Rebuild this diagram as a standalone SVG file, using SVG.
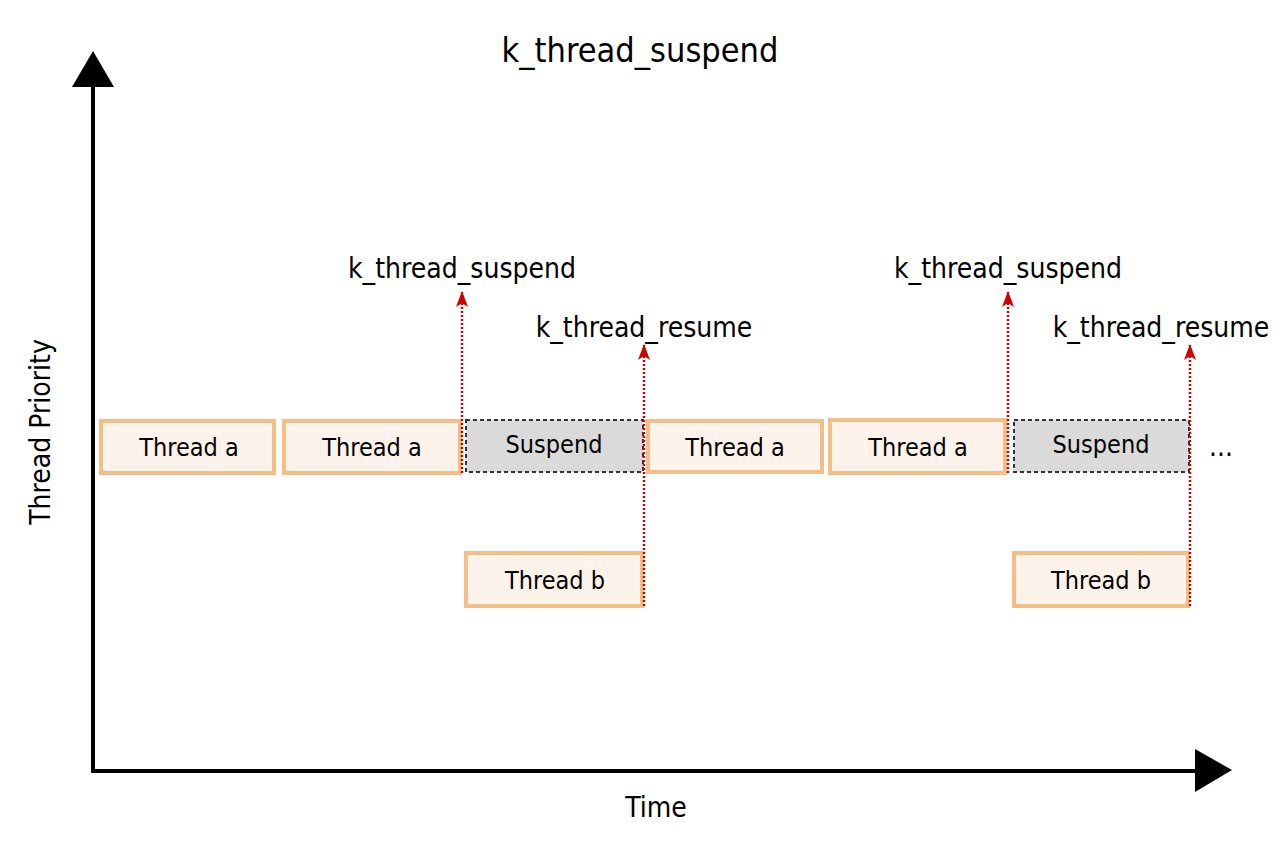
<svg xmlns="http://www.w3.org/2000/svg" width="1282" height="854" viewBox="0 0 1282 854">
<style>
text{font-family:"DejaVu Sans Condensed","DejaVu Sans",sans-serif;fill:#000;text-anchor:middle}
.lbl{font-size:28px}
.box{font-size:25px}
.th{fill:#fdf3ea;stroke:#f4be86;stroke-width:4}
.sp{fill:#dadada;stroke:#333;stroke-width:2;stroke-dasharray:4 3}
.ev{fill:none;stroke:#d00000;stroke-width:2.5;stroke-dasharray:2 2}
.ax{stroke:#000;stroke-width:4;fill:none}
</style>
<defs>
<marker id="ar" viewBox="0 0 16 12" refX="15" refY="6" markerWidth="16" markerHeight="12" markerUnits="userSpaceOnUse" orient="auto">
<path d="M0,0 L16,6 L0,12 L4,6 Z" fill="#d00000"/>
</marker>
</defs>
<rect width="1282" height="854" fill="#fff"/>
<g id="axes">
<line class="ax" x1="93" y1="85" x2="93" y2="771"/>
<line class="ax" x1="91" y1="771" x2="1197" y2="771"/>
<polygon points="93,51 72,87 114,87" fill="#000"/>
<polygon points="1232,770 1195,749 1195,792" fill="#000"/>
</g>
<text class="lbl" x="640" y="62" style="font-size:34px">k_thread_suspend</text>
<text class="lbl" x="656" y="817">Time</text>
<text class="lbl" transform="translate(50,432) rotate(-90)" x="0" y="0">Thread Priority</text>
<g id="a1"><rect class="th" x="101" y="421" width="173" height="52"/><text class="box" x="189" y="456">Thread a</text></g>
<g id="a2"><rect class="th" x="284" y="421" width="176" height="52"/><text class="box" x="372" y="456">Thread a</text></g>
<g id="s1"><rect class="sp" x="466" y="420" width="177" height="52"/><text class="box" x="554" y="453">Suspend</text></g>
<g id="a3"><rect class="th" x="648" y="421" width="174" height="51"/><text class="box" x="735" y="456">Thread a</text></g>
<g id="a4"><rect class="th" x="830" y="420" width="175" height="53"/><text class="box" x="918" y="456">Thread a</text></g>
<g id="s2"><rect class="sp" x="1014" y="420" width="175" height="52"/><text class="box" x="1101" y="453">Suspend</text></g>
<g id="b1"><rect class="th" x="466" y="553" width="176" height="53"/><text class="box" x="555" y="589">Thread b</text></g>
<g id="b2"><rect class="th" x="1014" y="553" width="174" height="53"/><text class="box" x="1101" y="589">Thread b</text></g>
<g id="dots"><text class="lbl" x="1221" y="456">...</text></g>
<g id="connectors">
<line class="ev" x1="462" y1="473" x2="462" y2="292" marker-end="url(#ar)"/>
<line class="ev" x1="644" y1="606" x2="644" y2="345" marker-end="url(#ar)"/>
<line class="ev" x1="1008" y1="473" x2="1008" y2="292" marker-end="url(#ar)"/>
<line class="ev" x1="1190" y1="606" x2="1190" y2="345" marker-end="url(#ar)"/>
</g>
<g id="labels">
<text class="lbl" x="462" y="278">k_thread_suspend</text>
<text class="lbl" x="644" y="337">k_thread_resume</text>
<text class="lbl" x="1008" y="278">k_thread_suspend</text>
<text class="lbl" x="1161" y="337">k_thread_resume</text>
</g>
</svg>
